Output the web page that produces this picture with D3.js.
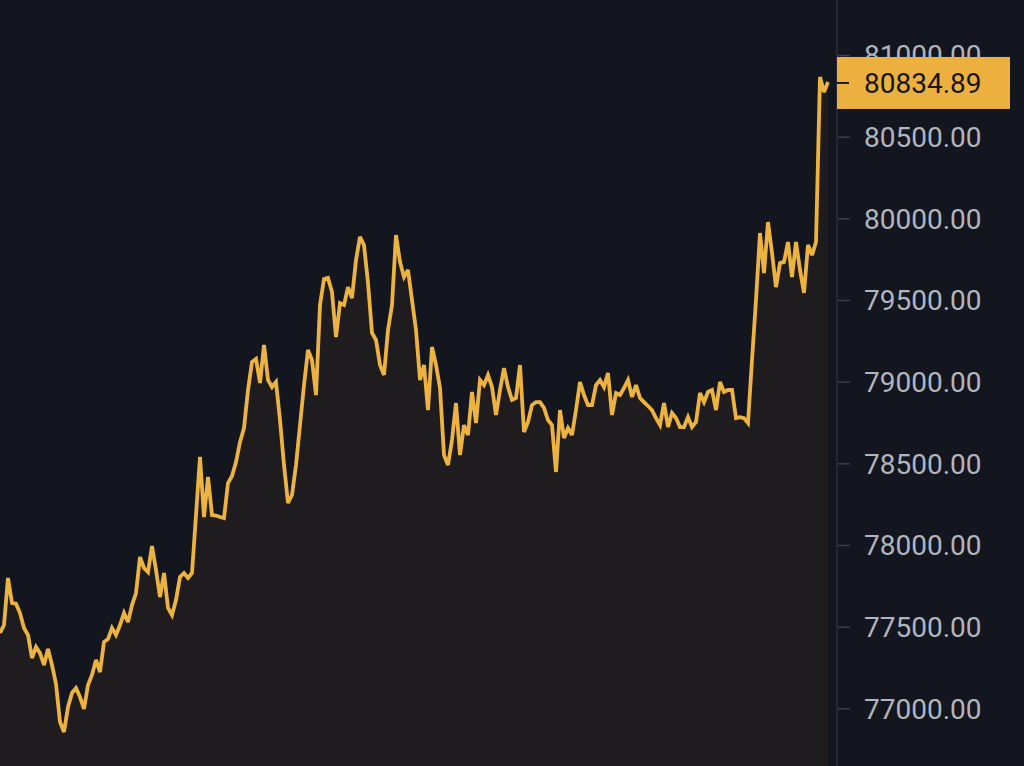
<!DOCTYPE html>
<html><head><meta charset="utf-8">
<script src="https://cdn.jsdelivr.net/npm/d3@7"></script>
<style>html,body{margin:0;padding:0;background:#14161f;overflow:hidden}</style>
</head><body>
<svg id="c" width="1024" height="766"></svg>
<script>
const prices = [
77461,77510,77798,77645,77640,77583,77492,77449,77308,77375,
77338,77265,77363,77265,77149,76916,76855,77008,77094,77124,
77069,76996,77143,77204,77296,77222,77406,77424,77492,77449,
77510,77583,77528,77632,77706,77926,77859,77834,77994,77847,
77681,77828,77614,77571,77663,77804,77828,77798,77828,78183,
78539,78171,78416,78183,78180,78171,78165,78379,78422,78508,
78630,78716,78949,79120,79139,78992,79224,79010,78967,78998,
78765,78490,78257,78306,78490,78734,78979,79194,79133,78918,
79469,79628,79635,79549,79273,79481,79469,79579,79512,79745,
79886,79837,79604,79298,79255,79102,79041,79316,79469,79898,
79733,79641,79684,79500,79316,79010,79102,78826,79212,79102,
78961,78551,78490,78643,78869,78551,78734,78673,78937,78747,
79010,78979,79041,78967,78796,78949,79083,78967,78888,78900,
79102,78692,78753,78857,78875,78875,78839,78765,78734,78447,
78826,78655,78716,78673,78826,78998,78918,78857,78857,78979,
79010,78967,79053,78796,78930,78918,78961,79010,78906,78979,
78900,78875,78851,78826,78777,78734,78869,78722,78808,78777,
78722,78722,78783,78722,78753,78930,78875,78937,78949,78826,
78998,78937,78949,78949,78777,78783,78777,78747,79133,79500,
79910,79665,79977,79788,79579,79726,79733,79855,79641,79855,
79684,79543,79837,79775,79855,80865,80773,80834.89
];
const index = prices.map((d,i)=>i);
const tickValues = [77000,77500,78000,78500,79000,79500,80000,80500,81000];
const lastPrice = prices[prices.length-1];

const W=1024,H=766, plotRight=828, axisX=837;
const svg=d3.select("#c");
svg.append("rect").attr("width",W).attr("height",H).attr("fill","#14161f");

const x=d3.scaleLinear().domain([0,index.length-1]).range([0,plotRight]);
const y=d3.scaleLinear().domain([77000,81000]).range([708.3,55]);

const area=d3.area().x((d,i)=>x(index[i])).y0(H).y1(d=>y(d));
const line=d3.line().x((d,i)=>x(index[i])).y(d=>y(d));

svg.append("path").datum(prices).attr("d",area).attr("fill","#f0a020").attr("fill-opacity",0.05);
svg.append("path").datum(prices).attr("d",line).attr("fill","none")
  .attr("stroke","#ecb341").attr("stroke-width",3.8).attr("stroke-linejoin","miter").attr("stroke-miterlimit",3);

// axis
const axisG=svg.append("g").attr("transform",`translate(${axisX},0)`);
const axis=d3.axisRight(y).tickValues(tickValues).tickSize(13).tickPadding(14)
  .tickFormat(d=>d3.format(".2f")(d));
axisG.call(axis);
axisG.select(".domain").remove();
axisG.append("line").attr("x1",0).attr("x2",0).attr("y1",0).attr("y2",H)
  .attr("stroke","#2b2f3b").attr("stroke-width",1.5);
axisG.selectAll(".tick line").attr("stroke","#3a3f4c").attr("stroke-width",1.5);
axisG.selectAll(".tick text").attr("fill","#b1b5bd").attr("font-family","Roboto, sans-serif")
  .attr("font-size",28).attr("dy","0.35em");

// last price label
const ly=y(lastPrice)+1;
const lab=svg.append("g");
lab.append("rect").attr("x",axisX).attr("y",ly-26).attr("width",173).attr("height",52).attr("fill","#ebb03e");
lab.append("line").attr("x1",axisX).attr("x2",axisX+12).attr("y1",ly).attr("y2",ly).attr("stroke","#1a1a1a").attr("stroke-width",2);
lab.append("text").attr("x",864).attr("y",ly).attr("dy","0.35em").attr("fill","#16161a")
  .attr("font-family","Roboto, sans-serif").attr("font-size",28).text(d3.format(".2f")(lastPrice));
</script>
</body></html>
